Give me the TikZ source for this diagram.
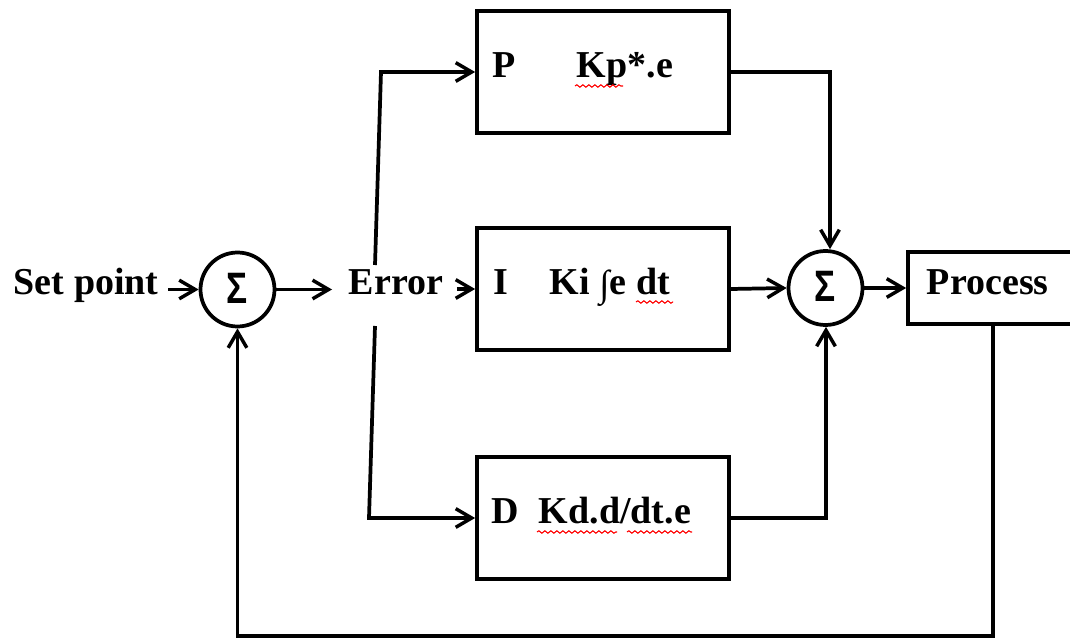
\documentclass[tikz,border=0pt]{standalone}
\usepackage{fontspec}
\setmainfont{Liberation Serif}
\newfontfamily\sigmafont{Liberation Sans}
\usetikzlibrary{arrows.meta,decorations.pathmorphing,calc}
\begin{document}
\begin{tikzpicture}[x=0.75pt,y=-0.75pt,
  line width=2.8pt,
  font=\bfseries\fontsize{28.5}{30}\selectfont,
  arr/.style={-{Straight Barb[length=12pt,width=14pt,line width=2.6pt]}},
  blk/.style={draw, line width=2.8pt, rectangle, minimum width=189pt, minimum height=91pt, inner sep=0pt},
  sumnode/.style={draw, line width=2.8pt, circle, minimum size=55.5pt, inner sep=0pt,
    font=\sigmafont\bfseries\fontsize{33}{34}\selectfont},
  lbl/.style={anchor=base west, inner sep=0pt},
  squig/.style={draw=red, line width=0.8pt, decorate,
    decoration={snake, segment length=4.5pt, amplitude=0.9pt}}]
\useasboundingbox (0,0) rectangle (1070,641);

% summing junctions
\node[sumnode] (c1) at (237.5,289.5) {\raisebox{2pt}{\scalebox{0.8}[1]{Σ}}};
\node[sumnode] (c2) at (825.5,288) {\raisebox{2pt}{\scalebox{0.8}[1]{Σ}}};

% blocks
\node[blk] (P) at (603,72) {};
\node[blk] (I) at (603,289) {};
\node[blk] (D) at (603,518) {};
\node[draw, line width=2.8pt, rectangle, minimum width=127.5pt, minimum height=54pt, inner sep=0pt] (proc) at (993,288) {};

% texts
\node[lbl] (sp) at (12,295) {Set point};
\node[lbl] (err) at (347,295) {Error};
\node[lbl] (Pl) at (491,78) {P};
\node[lbl] (Pt) at (575,78) {Kp*.e};
\node[lbl] (Il) at (492,295) {I};
\node[lbl] (It) at (548,295) {Ki \raisebox{-1pt}{\normalfont\fontsize{28}{30}\selectfont ∫}e dt};
\node[lbl] (Dl) at (490,523) {D};
\node[lbl] (Dt) at (537,523) {Kd.d/dt.e};
\node[lbl] (proct) at (925,295) {Process};

% spell-check squiggles
\draw[squig] (575,86) -- (623,86);
\draw[squig] (636,302) -- (673,302);
\draw[squig] (537,532) -- (617,532);
\draw[squig] (627,532) -- (692,532);

% coordinates for branch points
\coordinate (ub) at (375,265);
\coordinate (uc) at (381,72);
\coordinate (lb) at (375,326);
\coordinate (lc) at (369,518);
\coordinate (pc) at (830,72);
\coordinate (dc) at (826,518);
\coordinate (fa) at (993,636);

% connectors
\draw[arr] ($(sp.east |- c1.west)+(8,0)$) -- (c1.west);
\draw[arr] (c1.east) -- ($(err.west |- c1.east)+(-15,0)$);
\draw[arr] ($(err.east |- I.west)+(12,0)$) -- (I.west);
\draw[arr] (ub) -- (uc) -- (P.west);
\draw[arr] (lb) -- (lc) -- (D.west);
\draw[arr] (P.east) -- (pc) -- (pc |- c2.north);
\draw[arr] (I.east) -- (c2.west);
\draw[arr] (D.east) -- (dc) -- (dc |- c2.south);
\draw[arr] (c2.east) -- (proc.west);
\draw[arr] (fa |- proc.south) -- (fa) -| (c1.south);
\end{tikzpicture}
\end{document}
